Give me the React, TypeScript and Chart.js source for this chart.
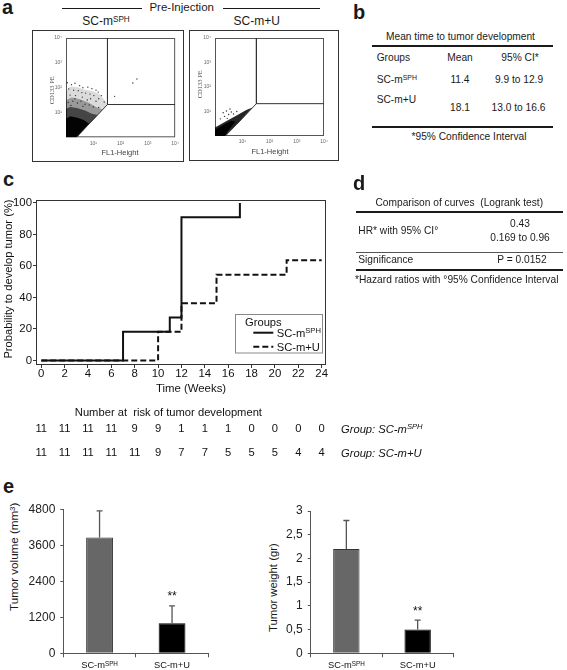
import React, { useEffect, useRef } from 'react';
import { Chart, registerables } from 'chart.js';

Chart.register(...registerables);

const FONT = '"Liberation Sans", Arial, Helvetica, sans-serif';
const INK = '#1a1a1a';

// ---------- Panel a : flow cytometry (values in log10 decades) ----------
const facsTickSup = ['\u2070', '\u00b9', '\u00b2', '\u00b3', '\u2074'];
const gateQuadrant = [[1.52, 4], [1.52, 1.32], [4, 1.32]];
const gateDiagonal = [[1.52, 1.32], [0.38, 0]];
const sphCore = [[0, 0], [0, 0.75], [0.15, 0.85], [0.39, 0.8], [0.65, 0.7], [0.85, 0.55], [0.39, 0]];
const sphInner = [[0, 0], [0, 1.15], [0.15, 1.22], [0.4, 1.18], [0.7, 1.08], [0.95, 0.95], [1.16, 0.9], [0.39, 0]];
const sphMid = [[0, 0], [0, 1.5], [0.21, 1.6], [0.51, 1.53], [0.82, 1.4], [1.12, 1.21], [1.34, 1.12], [0.39, 0]];
const sphOuter = [[0, 0], [0, 1.86], [0.15, 2.05], [0.39, 2.03], [0.7, 1.92], [1.0, 1.86], [1.24, 1.73], [1.43, 1.47], [1.52, 1.32], [0.39, 0]];
const sphDots = [
  [0.05, 2.2], [0.2, 2.12], [0.33, 2.18], [0.5, 2.08], [0.62, 2.0], [0.8, 2.02], [0.95, 1.96], [1.1, 1.9],
  [1.18, 1.82], [1.3, 1.68], [0.1, 1.95], [0.28, 1.9], [0.45, 1.88], [0.58, 1.8], [0.72, 1.78], [0.88, 1.74],
  [1.02, 1.68], [1.2, 1.55], [1.4, 1.42], [0.15, 1.7], [0.35, 1.68], [0.6, 1.62], [0.9, 1.55], [1.1, 1.45],
  [0.08, 1.4], [0.25, 1.45], [0.42, 1.38], [0.55, 1.45], [0.7, 1.33], [0.85, 1.3], [1.0, 1.22], [1.2, 1.2],
  [0.18, 1.28], [0.62, 1.25], [0.33, 1.55], [0.78, 1.5],
  [1.78, 1.65], [2.45, 2.19], [2.6, 2.35],
];
const muWedge = [[0, 0], [0, 0.35], [0.39, 0.59], [0.76, 0.82], [1.13, 1.05], [1.37, 1.16], [1.25, 1.01], [0.88, 0.56], [0.51, 0.17], [0.37, 0]];
const muCore = [[0, 0], [0, 0.26], [0.27, 0.43], [0.58, 0.61], [0.76, 0.59], [0.51, 0.26], [0.37, 0]];
const muDots = [[0.3, 0.95], [0.42, 1.02], [0.5, 0.88], [0.6, 0.98], [0.35, 0.8], [0.68, 0.9], [0.2, 0.7], [0.45, 0.72], [0.8, 1.0], [0.55, 1.1]];

// ---------- Panel c : Kaplan-Meier ----------
const weeksSph = [0, 7, 11, 12, 17];
const pctSph = [0, 18.2, 27.3, 90.9, 100];
const weeksMU = [0, 10, 12, 15, 21, 24];
const pctMU = [0, 18.2, 36.4, 54.5, 63.6, 63.6];
const riskWeeks = [0, 2, 4, 6, 8, 10, 12, 14, 16, 18, 20, 22, 24];
const riskSph = [11, 11, 11, 11, 9, 9, 1, 1, 1, 0, 0, 0, 0];
const riskMU = [11, 11, 11, 11, 11, 9, 7, 7, 5, 5, 5, 4, 4];

// ---------- Panel e : bars ----------
const groupBase = ['SC-m', 'SC-m+U'];
const groupSup = ['SPH', ''];
const volumeMean = [3860, 1000];
const volumeErr = [890, 580];
const weightMean = [2.2, 0.5];
const weightErr = [0.6, 0.2];
const sigMarks = ['', '**'];

function drawSup(ctx: any, base: string, sup: string, x: number, y: number, size: number, align: string, italic = false) {
  const st = italic ? 'italic ' : '';
  ctx.font = `${st}${size}px ${FONT}`;
  const wb = ctx.measureText(base).width;
  const ss = size * 0.68;
  ctx.font = `${st}${ss}px ${FONT}`;
  const ws = sup ? ctx.measureText(sup).width : 0;
  const total = wb + ws;
  const x0 = align === 'center' ? x - total / 2 : align === 'right' ? x - total : x;
  ctx.textAlign = 'left';
  ctx.textBaseline = 'alphabetic';
  const by = y + size * 0.358;
  ctx.font = `${st}${size}px ${FONT}`;
  ctx.fillText(base, x0, by);
  if (sup) {
    ctx.font = `${st}${ss}px ${FONT}`;
    ctx.fillText(sup, x0 + wb, by - size * 0.3);
  }
}

function T(props: any) {
  const { x, y, size = 10.2, align = 'left', bold = false, italic = false, color = INK, rot = false, family = FONT, children } = props;
  const tx = rot ? 'translateX(-50%) rotate(-90deg)' : align === 'center' ? 'translateX(-50%)' : align === 'right' ? 'translateX(-100%)' : 'none';
  return (
    <div style={{ position: 'absolute', left: x, top: y - size / 2, height: size, fontSize: size, lineHeight: `${size}px`, fontFamily: family, fontWeight: bold ? 700 : 400, fontStyle: italic ? 'italic' : 'normal', color, whiteSpace: 'pre', transform: tx }}>
      {children}
    </div>
  );
}
const Sup = (p: any) => <span style={{ fontSize: '0.68em', position: 'relative', top: '-0.42em' }}>{p.children}</span>;
const HL = (p: any) => {
  const h = p.h || 1;
  return <div style={{ position: 'absolute', left: p.x1, top: p.y - h / 2, width: p.x2 - p.x1, height: h, background: p.color || INK }} />;
};

// ---------- FACS plot ----------
const facsFrame = {
  id: 'facsFrame',
  beforeDatasetsDraw(chart: any) {
    const { ctx, chartArea: a } = chart;
    ctx.save();
    ctx.strokeStyle = '#555';
    ctx.lineWidth = 1;
    ctx.strokeRect(a.left + 0.5, a.top + 0.5, a.right - a.left - 1, a.bottom - a.top - 1);
    ctx.restore();
  },
};

function FacsPlot(p: any) {
  const ref = useRef<HTMLCanvasElement>(null);
  useEffect(() => {
    const toXY = (q: number[]) => ({ x: q[0], y: q[1] });
    const tickFont = { family: FONT, size: 5 };
    const chart = new Chart(ref.current as any, {
      type: 'line',
      data: {
        datasets: [
          { data: gateQuadrant.map(toXY), borderColor: '#333', borderWidth: 1, pointRadius: 0, fill: false },
          { data: gateDiagonal.map(toXY), borderColor: '#333', borderWidth: 1, pointRadius: 0, fill: false },
          { data: p.dots.map(toXY), showLine: false, pointRadius: 0.7, pointBackgroundColor: '#333', pointBorderWidth: 0 },
          ...p.polys.map((poly: any) => ({
            data: [...poly.pts, poly.pts[0]].map(toXY),
            fill: 'shape',
            backgroundColor: poly.color,
            borderColor: 'rgba(0,0,0,0)',
            borderWidth: 0,
            pointRadius: 0,
          })),
        ],
      } as any,
      options: {
        animation: false,
        responsive: false,
        devicePixelRatio: 1,
        layout: { padding: { left: 0, top: p.padTop, right: p.padRight, bottom: 0 } },
        plugins: { legend: { display: false }, tooltip: { enabled: false } },
        scales: {
          x: {
            type: 'linear', min: 0, max: 4,
            afterFit: (s: any) => { s.height = p.xHeight; },
            ticks: { stepSize: 1, autoSkip: false, maxRotation: 0, font: tickFont, color: '#666', padding: 3, callback: (v: any) => (v === 0 ? '' : '10' + facsTickSup[v]) },
            grid: { display: false, drawTicks: false },
            border: { display: false },
          },
          y: {
            type: 'linear', min: 0, max: 4,
            afterFit: (s: any) => { s.width = p.yWidth; },
            ticks: { stepSize: 1, autoSkip: false, font: tickFont, color: '#666', padding: 4, callback: (v: any) => (v === 0 ? '' : '10' + facsTickSup[v]) },
            grid: { display: false, drawTicks: false },
            border: { display: false },
          },
        },
      } as any,
      plugins: [facsFrame],
    });
    return () => chart.destroy();
  }, []);
  return <canvas ref={ref} width={p.width} height={p.height} style={{ position: 'absolute', left: p.left, top: p.top, width: p.width, height: p.height }} />;
}

// ---------- KM chart ----------
const kmExtras = {
  id: 'kmExtras',
  afterDraw(chart: any) {
    const { ctx, chartArea: a } = chart;
    const xs = chart.scales.x;
    ctx.save();
    ctx.strokeStyle = '#333';
    ctx.lineWidth = 1;
    ctx.strokeRect(a.left + 0.5, a.top + 0.5, a.right - a.left - 1, a.bottom - a.top - 1);
    ctx.fillStyle = '#111';
    // y title
    ctx.save();
    ctx.translate(8.5, (a.top + a.bottom) / 2 - 3.5);
    ctx.rotate(-Math.PI / 2);
    ctx.font = `11.2px ${FONT}`;
    ctx.textAlign = 'center';
    ctx.textBaseline = 'middle';
    ctx.fillText('Probability to develop tumor (%)', 0, 0);
    ctx.restore();
    // x title
    ctx.font = `11.4px ${FONT}`;
    ctx.textAlign = 'center';
    ctx.textBaseline = 'middle';
    ctx.fillText('Time (Weeks)', 191, 218.8);
    // legend
    const ds = chart.data.datasets;
    ctx.fillStyle = '#fff';
    ctx.fillRect(235.7, 144, 87, 38.7);
    ctx.strokeStyle = '#888';
    ctx.strokeRect(235.5, 144.5, 87, 38.5);
    ctx.fillStyle = '#111';
    ctx.font = `11.2px ${FONT}`;
    ctx.textAlign = 'left';
    ctx.fillText('Groups', 245, 152.7);
    const rows = [162.7, 176.7];
    rows.forEach((ry, i) => {
      ctx.save();
      ctx.strokeStyle = ds[i].borderColor;
      ctx.lineWidth = ds[i].borderWidth;
      ctx.setLineDash(ds[i].borderDash || []);
      ctx.beginPath();
      ctx.moveTo(253.3, ry);
      ctx.lineTo(273.3, ry);
      ctx.stroke();
      ctx.restore();
      ctx.fillStyle = '#111';
      drawSup(ctx, groupBase[i], groupSup[i], 276.7, ry, 11.2, 'left');
    });
    // risk table
    ctx.fillStyle = '#111';
    ctx.font = `11.2px ${FONT}`;
    ctx.textAlign = 'center';
    ctx.textBaseline = 'middle';
    ctx.fillText('Number at  risk of tumor development', 168.4, 242.6);
    riskWeeks.forEach((w, i) => {
      const px = xs.getPixelForValue(w);
      ctx.font = `11.2px ${FONT}`;
      ctx.textAlign = 'center';
      ctx.textBaseline = 'middle';
      ctx.fillText(String(riskSph[i]), px, 258.8);
      ctx.fillText(String(riskMU[i]), px, 283);
    });
    drawSup(ctx, 'Group: ' + groupBase[0], groupSup[0], 341, 258.8, 11.2, 'left', true);
    drawSup(ctx, 'Group: ' + groupBase[1], groupSup[1], 341, 283, 11.2, 'left', true);
    ctx.restore();
  },
};

function KMChart() {
  const ref = useRef<HTMLCanvasElement>(null);
  useEffect(() => {
    const tf = { family: FONT, size: 11.4 };
    const chart = new Chart(ref.current as any, {
      type: 'line',
      data: {
        datasets: [
          { label: 'SC-mSPH', data: weeksSph.map((w, i) => ({ x: w, y: pctSph[i] })), borderColor: '#111', borderWidth: 2, stepped: 'before', pointRadius: 0, fill: false },
          { label: 'SC-m+U', data: weeksMU.map((w, i) => ({ x: w, y: pctMU[i] })), borderColor: '#111', borderWidth: 2, borderDash: [6, 3], stepped: 'before', pointRadius: 0, fill: false },
        ],
      } as any,
      options: {
        animation: false,
        responsive: false,
        devicePixelRatio: 1,
        layout: { padding: { left: 0, right: 114, top: 30, bottom: 0 } },
        plugins: { legend: { display: false }, tooltip: { enabled: false } },
        scales: {
          x: {
            type: 'linear', min: -0.45, max: 24.37,
            afterFit: (s: any) => { s.height = 105; },
            ticks: { stepSize: 2, includeBounds: false, autoSkip: false, maxRotation: 0, font: tf, color: '#111', padding: -1 },
            grid: { drawOnChartArea: false, tickLength: 3, color: '#333' },
            border: { display: false },
          },
          y: {
            type: 'linear', min: -2.9, max: 101.9,
            afterFit: (s: any) => { s.width = 36; },
            ticks: { stepSize: 10, includeBounds: false, font: tf, color: '#111', padding: 1, callback: (v: any) => (v % 20 === 0 ? String(v) : '') },
            grid: { drawOnChartArea: false, tickLength: 3, color: '#333' },
            border: { display: false },
          },
        },
      } as any,
      plugins: [kmExtras],
    });
    return () => chart.destroy();
  }, []);
  return <canvas ref={ref} width={440} height={300} style={{ position: 'absolute', left: 0, top: 170, width: 440, height: 300 }} />;
}

// ---------- Bar charts ----------
const barExtras = {
  id: 'barExtras',
  afterDatasetsDraw(chart: any, _args: any, opts: any) {
    const { ctx, chartArea: a } = chart;
    const ys = chart.scales.y;
    const xs = chart.scales.x;
    const meta = chart.getDatasetMeta(0);
    const vals = chart.data.datasets[0].data;
    ctx.save();
    meta.data.forEach((bar: any, i: number) => {
      const top = ys.getPixelForValue(vals[i] + opts.errs[i]);
      ctx.strokeStyle = '#555';
      ctx.lineWidth = 1.3;
      ctx.beginPath();
      ctx.moveTo(bar.x, bar.y);
      ctx.lineTo(bar.x, top);
      ctx.moveTo(bar.x - 3, top);
      ctx.lineTo(bar.x + 3, top);
      ctx.stroke();
      if (opts.sig[i]) {
        ctx.fillStyle = '#111';
        ctx.font = `12px ${FONT}`;
        ctx.textAlign = 'center';
        ctx.textBaseline = 'alphabetic';
        ctx.fillText(opts.sig[i], bar.x, top - 12 + 6.5);
      }
    });
    ctx.fillStyle = '#111';
    groupBase.forEach((b, i) => {
      drawSup(ctx, b, groupSup[i], xs.getPixelForValue(i), a.bottom + 11.7, 9.3, 'center');
    });
    ctx.restore();
  },
};

function BarPanel(p: any) {
  const ref = useRef<HTMLCanvasElement>(null);
  useEffect(() => {
    const chart = new Chart(ref.current as any, {
      type: 'bar',
      data: {
        labels: groupBase.map((b, i) => b + groupSup[i]),
        datasets: [{
          data: p.means,
          backgroundColor: ['#676767', '#000000'],
          borderColor: ['#333333', '#000000'],
          borderWidth: 1,
          barPercentage: 0.37,
          categoryPercentage: 1,
        }],
      },
      options: {
        animation: false,
        responsive: false,
        devicePixelRatio: 1,
        layout: { padding: { left: 0, right: p.padRight, top: p.padTop, bottom: 0 } },
        plugins: { legend: { display: false }, tooltip: { enabled: false }, barExtras: { errs: p.errs, sig: sigMarks } },
        scales: {
          x: {
            afterFit: (s: any) => { s.height = p.xHeight; },
            ticks: { display: false },
            grid: { offset: true, drawOnChartArea: false, tickLength: 4, color: '#555' },
            border: { color: '#555' },
          },
          y: {
            min: 0, max: p.yMax,
            afterFit: (s: any) => { s.width = p.yWidth; },
            ticks: { stepSize: p.yStep, font: { family: FONT, size: 12 }, color: '#222', padding: 5, callback: (v: any) => String(v).replace('.', ',') },
            grid: { drawOnChartArea: false, tickLength: 3, color: '#555' },
            border: { color: '#555' },
          },
        },
      } as any,
      plugins: [barExtras],
    });
    return () => chart.destroy();
  }, []);
  return <canvas ref={ref} width={p.width} height={p.height} style={{ position: 'absolute', left: p.left, top: p.top, width: p.width, height: p.height }} />;
}

export default function App() {
  return (
    <div style={{ position: 'fixed', left: 0, top: 0, width: 567, height: 670, background: '#fff', overflow: 'hidden', fontFamily: FONT }}>
      {/* panel a */}
      <T x={2} y={7.3} size={20} bold>a</T>
      <HL x1={62} x2={142} y={8} />
      <T x={181.7} y={7.4} size={11.5} align="center">Pre-Injection</T>
      <HL x1={223} x2={320} y={8} />
      <T x={106} y={21} size={12} align="center">SC-m<Sup>SPH</Sup></T>
      <T x={256.7} y={21} size={12} align="center">SC-m+U</T>
      <div style={{ position: 'absolute', left: 32, top: 30, width: 152, height: 132, boxSizing: 'border-box', border: '1px solid #333' }} />
      <div style={{ position: 'absolute', left: 189, top: 30, width: 150, height: 131, boxSizing: 'border-box', border: '1px solid #333' }} />
      <FacsPlot left={33} top={31} width={149} height={129} yWidth={33} xHeight={22.7} padTop={3} padRight={5}
        polys={[
          { pts: sphCore, color: 'rgba(0,0,0,0.95)' },
          { pts: sphInner, color: 'rgba(0,0,0,0.55)' },
          { pts: sphMid, color: 'rgba(0,0,0,0.3)' },
          { pts: sphOuter, color: 'rgba(0,0,0,0.14)' },
        ]} dots={sphDots} />
      <FacsPlot left={190} top={31} width={147} height={128} yWidth={25} xHeight={23} padTop={3} padRight={13}
        polys={[{ pts: muCore, color: 'rgba(0,0,0,0.95)' }, { pts: muWedge, color: 'rgba(0,0,0,0.85)' }]} dots={muDots} />
      <T x={51.5} y={90} size={6.5} rot family='"Liberation Serif", serif' color="#444">CD133 PE</T>
      <T x={120} y={153} size={7.5} align="center" color="#444">FL1-Height</T>
      <T x={200} y={84} size={6.5} rot family='"Liberation Serif", serif' color="#444">CD133 PE</T>
      <T x={270} y={152} size={7.5} align="center" color="#444">FL1-Height</T>

      {/* panel b */}
      <T x={353} y={11.7} size={20} bold>b</T>
      <T x={460.5} y={37.3} align="center">Mean time to tumor development</T>
      <HL x1={371.7} x2={553.3} y={46} h={2} />
      <T x={376.7} y={58.3}>Groups</T>
      <T x={460} y={58.3} align="center">Mean</T>
      <T x={520} y={58.3} align="center">95% CI*</T>
      <T x={376.7} y={80}>SC-m<Sup>SPH</Sup></T>
      <T x={460} y={80} align="center">11.4</T>
      <T x={519} y={80} align="center">9.9 to 12.9</T>
      <T x={376.7} y={100}>SC-m+U</T>
      <T x={460} y={108.3} align="center">18.1</T>
      <T x={518.5} y={108.3} align="center">13.0 to 16.6</T>
      <HL x1={371.7} x2={553.3} y={126.7} h={2} />
      <T x={469} y={136.7} align="center">*95% Confidence Interval</T>

      {/* panel c */}
      <T x={3} y={179.3} size={20} bold>c</T>
      <KMChart />

      {/* panel d */}
      <T x={353} y={182.5} size={20} bold>d</T>
      <T x={459.3} y={203.3} align="center">Comparison of curves  (Logrank test)</T>
      <HL x1={356} x2={562.7} y={211.7} h={2} />
      <T x={358.3} y={231}>HR* with 95% CI°</T>
      <T x={520} y={224} align="center">0.43</T>
      <T x={520} y={237.7} align="center">0.169 to 0.96</T>
      <HL x1={356} x2={562.7} y={252.3} h={1} color="#555" />
      <T x={358.3} y={260}>Significance</T>
      <T x={522} y={260} align="center">P = 0.0152</T>
      <HL x1={356} x2={562.7} y={270} h={2} />
      <T x={355} y={280}>*Hazard ratios with °95% Confidence Interval</T>

      {/* panel e */}
      <T x={3} y={486.3} size={20} bold>e</T>
      <T x={13.5} y={556.7} size={11.6} rot>Tumor volume (mm<Sup>3</Sup>)</T>
      <BarPanel left={20} top={495} width={200} height={175} yWidth={43.3} padRight={11.7} padTop={14.3} xHeight={16.7}
        means={volumeMean} errs={volumeErr} yMax={4800} yStep={1200} />
      <T x={274} y={588} size={11.3} rot>Tumor weight (gr)</T>
      <BarPanel left={250} top={495} width={220} height={175} yWidth={60.7} padRight={16.7} padTop={16} xHeight={16.7}
        means={weightMean} errs={weightErr} yMax={3} yStep={0.5} />
    </div>
  );
}
